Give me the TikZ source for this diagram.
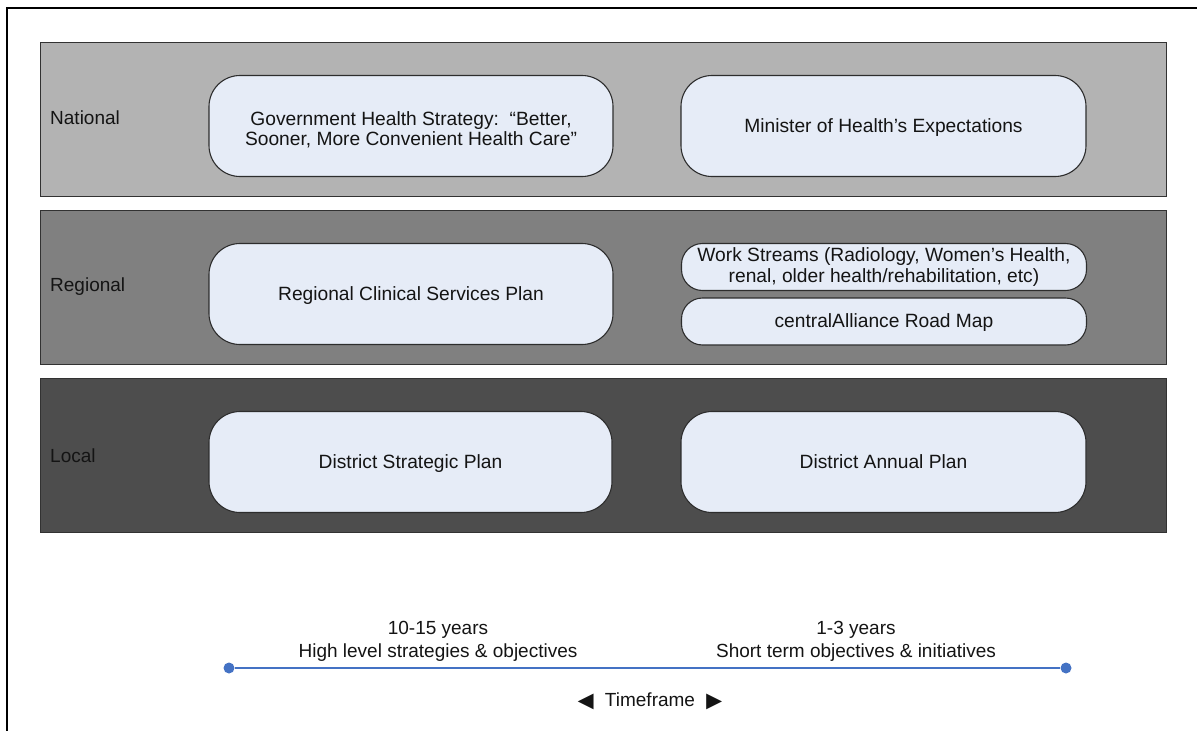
\documentclass[tikz,border=0pt]{standalone}
\usepackage{fontspec}
\setmainfont{Liberation Sans}
\definecolor{natfill}{RGB}{179,179,179}
\definecolor{regfill}{RGB}{128,128,128}
\definecolor{locfill}{RGB}{77,77,77}
\definecolor{bandline}{RGB}{50,50,50}
\definecolor{planfill}{RGB}{230,236,247}
\definecolor{planline}{RGB}{45,45,45}
\definecolor{inktext}{RGB}{20,20,20}
\definecolor{lineblue}{RGB}{68,114,196}
% enlarged pointer glyphs beside the axis caption
\newcommand{\bigpointer}[1]{\raisebox{-2.5pt}{\fontsize{26.5}{28}\selectfont #1}}
\begin{document}
\begin{tikzpicture}[x=1pt,y=-1pt,
  every node/.style={text=inktext},
  band/.style={draw=bandline, line width=1pt, minimum width=1126pt,
    minimum height=154pt, inner sep=0pt, anchor=north west},
  level/.style={anchor=west, inner sep=0pt, font=\fontsize{19}{22}\selectfont},
  plan/.style={draw=planline, fill=planfill, line width=1.1pt,
    rounded corners=31pt, minimum width=404pt, minimum height=101pt,
    inner sep=0pt, align=center, font=\fontsize{19.2}{21}\selectfont},
  oneline/.style={text height=14pt, text depth=1.7pt},
  smallplan/.style={plan, rounded corners=21pt, minimum height=47pt},
  plantext/.style={align=center, inner sep=0pt, font=\fontsize{19.2}{19.8}\selectfont},
  span/.style={align=center, inner sep=0pt, font=\fontsize{19}{22.5}\selectfont},
  enddot/.style={circle, fill=lineblue, minimum size=11pt, inner sep=0pt},
  timeline/.style={draw=lineblue, line width=1.4pt}
]
\useasboundingbox (0,0) rectangle (1197,731);

% page frame (left and top edges)
\draw[line width=2.6pt, black] (7,731) -- (7,8) -- (1197,8);

% organisational levels
\node[band, fill=natfill] (national) at (40,42) {};
\node[band, fill=regfill] (regional) at (40,210) {};
\node[band, fill=locfill] (local) at (40,378) {};

\node[level] (natlabel) at (50,118) {National};
\node[level] (reglabel) at (50,287) {Regional};
\node[level] (loclabel) at (50,456) {Local};

% plans at each level
\node[plan] (govstrategy) at (411,126) {};
\node[plantext] (govtext) at ([yshift=-4pt]govstrategy.center)
  {Government Health Strategy:\ \ “Better,\\Sooner, More Convenient Health Care”};
\node[plan, oneline, minimum width=405pt] (minister) at (883.5,126) {Minister of Health’s Expectations};

\node[plan, oneline] (rcsp) at (411,294) {Regional Clinical Services Plan};
\node[smallplan, minimum width=405pt] (workstreams) at (884,267)
  {Work Streams (Radiology, Women’s Health,\\renal, older health/rehabilitation, etc)};
\node[smallplan, oneline, minimum width=405pt] (roadmap) at (884,321.5) {centralAlliance Road Map};

\node[plan, oneline, minimum width=403pt] (dsp) at (410.5,462) {District Strategic Plan};
\node[plan, oneline, minimum width=405pt] (dap) at (883.5,462) {District Annual Plan};

% timeframe axis
\node[enddot] (tstart) at (229,668) {};
\node[enddot] (tend) at (1066,668) {};
\draw[timeline] (tstart) -- (tend);

\node[span] (longterm) at (438,641.5) {10-15 years\\High level strategies \& objectives};
\node[span] (shortterm) at (856,641.5) {1-3 years\\Short term objectives \& initiatives};
\node[span] (timeframe) at (650,701.5)
  {\bigpointer{◄}\hspace{6pt}Timeframe\hspace{6pt}\bigpointer{►}};
\end{tikzpicture}
\end{document}
